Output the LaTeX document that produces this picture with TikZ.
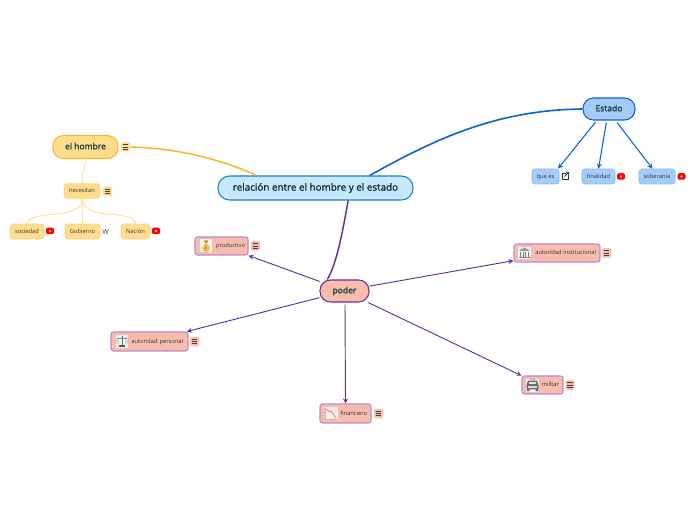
\documentclass[tikz,border=0pt]{standalone}
\usepackage{fontspec}
\setmainfont{Open Sans}
\newfontfamily\semifont{Open Sans}[FakeBold=1.6]
\usetikzlibrary{calc}
\usetikzlibrary{arrows}
\usetikzlibrary{positioning}
\newdimen\pxu
\pxu=0.75pt
\definecolor{mainfill}{HTML}{C6E8FB}
\definecolor{mainline}{HTML}{1B7FC0}
\definecolor{statefill}{HTML}{A5CBFB}
\definecolor{stateline}{HTML}{0B62D6}
\definecolor{manfill}{HTML}{FFDD8C}
\definecolor{manline}{HTML}{F7B52B}
\definecolor{manpale}{HTML}{FEDF96}
\definecolor{powerfill}{HTML}{F8BCAC}
\definecolor{powerline}{HTML}{62309A}
\definecolor{powerpale}{HTML}{B98BCB}
\definecolor{inktext}{HTML}{12304A}
\definecolor{topictext}{HTML}{143F3E}
\begin{document}
\begin{tikzpicture}[
      x=0.75pt, y=-0.75pt,
      topic/.style   ={rectangle, rounded corners=10.5\pxu, thick, text=topictext, inner sep=0pt,
                       text height=5pt, text depth=1.5pt,
                       font=\semifont\fontsize{6.4}{8}\selectfont},
      leaf/.style    ={rectangle, rounded corners=2.5\pxu, inner sep=0pt, text=black!80,
                       text height=3.3pt, text depth=1pt,
                       font=\fontsize{4.3}{5}\selectfont},
      manleaf/.style ={leaf, draw=manline!55, fill=manfill},
      stateleaf/.style={leaf, draw=stateline!45, fill=statefill},
      powerleaf/.style={leaf, draw=powerpale, line width=0.8pt, fill=powerfill, align=right},
      notechip/.style={rectangle, rounded corners=1pt, minimum width=9\pxu, minimum height=9.5\pxu, inner sep=0pt,
                       path picture={
                         \foreach \dy in {-2.2,0,2.2}
                           \draw [black!75, line width=0.55pt]
                             ($(path picture bounding box.center)+(-2.6\pxu,\dy\pxu)$) -- +(5.2\pxu,0pt) ;
                       }},
      redchip/.style ={rectangle, rounded corners=1.5pt, fill=red, minimum width=8\pxu, minimum height=6.5\pxu, inner sep=0pt,
                       path picture={\fill [white!65!red] (path picture bounding box.center) circle (1pt) ;}},
      manlink/.style ={draw=manpale, line width=0.7pt},
      statelink/.style={-stealth, draw=stateline, line width=0.8pt},
      powerlink/.style={-stealth, draw=powerline, line width=0.7pt},
      pics/bagicon/.style={code={
        \fill [black!4] (-6,-6.5) rectangle (6,6.5) ;
        \fill [manline!85!white] (0,2) ellipse (3.8 and 4.2) ;
        \fill [manline!80!black] (-2,-5.5) -- (2,-5.5) -- (1,-2.5) -- (-1,-2.5) -- cycle ;
        \node [font=\fontsize{3.2}{4}\selectfont, text=black!60] at (0,2) {\$} ;
      }},
      pics/scaleicon/.style={code={
        \fill [black!5] (-6,-6.5) rectangle (6,6.5) ;
        \draw [black!60, line width=0.7pt] (0,-5.5) -- (0,4.5) ;
        \draw [black!50, line width=0.4pt] (-4.5,-3) -- (4.5,-3) ;
        \draw [black!30, line width=0.4pt] (-4.5,-3) -- (-5.5,1.5) -- (-3.5,1.5) -- cycle (4.5,-3) -- (3.5,1.5) -- (5.5,1.5) -- cycle ;
        \fill [black!65] (-3,5.5) rectangle (3,3.8) ;
      }},
      pics/bankicon/.style={code={
        \fill [black!4] (-6.5,-6) rectangle (6.5,6) ;
        \fill [black!42] (-6,-2) -- (0,-5.5) -- (6,-2) -- cycle ;
        \foreach \colx in {-4.5,-2,0.5,3} \fill [black!55] (\colx,-1.2) rectangle +(1.4,5) ;
        \fill [black!45] (-6,4) rectangle (6,5.5) ;
      }},
      pics/caricon/.style={code={
        \fill [black!4] (-6.5,-6.5) rectangle (6.5,6.5) ;
        \fill [red!55] (-2.2,-6) rectangle (-0.2,-4.8) ;
        \fill [blue!50] (0.2,-6) rectangle (2.2,-4.8) ;
        \fill [black!58] (-4.5,-4.3) -- (4.5,-4.3) -- (6,0) -- (6,4.3) -- (-6,4.3) -- (-6,0) -- cycle ;
        \fill [black!10] (-3.2,-3.2) rectangle (3.2,-0.6) ;
        \fill [black!15] (-4.5,1.2) rectangle (4.5,2.6) ;
        \fill [black!70] (-5.5,4.3) rectangle (-3.2,6) (3.2,4.3) rectangle (5.5,6) ;
      }},
      pics/charticon/.style={code={
        \fill [white!75!powerfill] (-6.5,-6.5) rectangle (6.5,6.5) ;
        \draw [black!25, line width=0.3pt] (-6,-6) -- (-6,6) -- (6,6) ;
        \draw [red!60, line width=0.55pt] (-5,-4.5) -- (-2,-2) -- (0,-2.5) -- (5,4.5) ;
      }},
      pics/linkicon/.style={code={
        \draw [inktext, line width=0.55pt] (0.5,-3) -- (-3,-3) -- (-3,3) -- (3,3) -- (3,-0.5) ;
        \draw [inktext, line width=0.55pt] (-0.5,0.5) -- (3.5,-3.5) (1,-3.7) -- (3.7,-3.7) -- (3.7,-1) ;
      }}
    ]
    \useasboundingbox (0,0) rectangle (696,520) ;

    % central topic
    \node [topic, draw=mainline, fill=mainfill, text=inktext, minimum width=195\pxu, minimum height=24\pxu,
           rounded corners=11.5\pxu, text height=5.5pt, font=\semifont\fontsize{7.4}{8}\selectfont] (main) at (315.5,188) {relación entre el hombre y el estado} ;

    % el hombre
    \node [topic, draw=manline, fill=manfill, minimum width=65\pxu, minimum height=23\pxu] (man) at (85.5,147) {el hombre} ;
    \node [notechip, fill=manfill] (mannote) at (125.5,147) {} ;
    \node [manleaf, minimum width=36\pxu, minimum height=14.5\pxu] (needs) at (82,191) {necesitan} ;
    \node [notechip, fill=manfill] (needsnote) at (107.5,191.5) {} ;
    \node [manleaf, minimum width=34\pxu, minimum height=15\pxu] (society) at (27,231.5) {sociedad} ;
    \node [manleaf, minimum width=35\pxu, minimum height=15\pxu] (govern) at (82.5,231.5) {Gobierno} ;
    \node [manleaf, minimum width=29\pxu, minimum height=15\pxu] (nation) at (135.5,231.5) {Nación} ;
    \node [redchip] (societyred) at (50,231) {} ;
    \node [redchip] (nationred) at (156,231) {} ;
    \node [inner sep=0pt, text=black!75, font=\rmfamily\fontsize{5.2}{6}\selectfont] (wiki) at (105.5,232) {W} ;

    % Estado
    \node [topic, draw=stateline, fill=statefill, minimum width=52\pxu, minimum height=22\pxu] (state) at (609,109) {Estado} ;
    \node [stateleaf, minimum width=27\pxu, minimum height=15\pxu] (what) at (545.5,176.5) {que es} ;
    \node [stateleaf, minimum width=33\pxu, minimum height=15\pxu] (goal) at (598.5,176.5) {finalidad} ;
    \node [stateleaf, minimum width=36\pxu, minimum height=15\pxu] (rule) at (657,176.5) {soberanía} ;
    \pic at (565,176) {linkicon} ;
    \node [redchip] (goalred) at (621,176.5) {} ;
    \node [redchip] (rulered) at (681.5,176.5) {} ;

    % poder
    \node [topic, draw=powerline, fill=powerfill, minimum width=49\pxu, minimum height=22\pxu] (power) at (344.5,291) {poder} ;
    \node [powerleaf, minimum width=53\pxu, minimum height=18\pxu, text width=47\pxu] (prod) at (221.5,246) {productivo} ;
    \node [powerleaf, minimum width=77\pxu, minimum height=19\pxu, text width=67\pxu] (person) at (149.5,341.5) {autoridad personal} ;
    \node [powerleaf, minimum width=86\pxu, minimum height=18\pxu, text width=78\pxu] (inst) at (557,253) {autoridad institucional} ;
    \node [powerleaf, minimum width=41\pxu, minimum height=18\pxu, text width=33\pxu] (army) at (542.5,385) {militar} ;
    \node [powerleaf, minimum width=51\pxu, minimum height=19\pxu, text width=43\pxu] (money) at (345.5,413.5) {financiero} ;
    \node [notechip, fill=powerfill] (prodnote) at (255.5,246) {} ;
    \node [notechip, fill=powerfill] (personnote) at (194.5,341.5) {} ;
    \node [notechip, fill=powerfill] (instnote) at (606.5,253) {} ;
    \node [notechip, fill=powerfill] (armynote) at (570,385) {} ;
    \node [notechip, fill=powerfill] (moneynote) at (378.5,413.5) {} ;
    \pic at (206,246) {bagicon} ;
    \pic at (122,341.5) {scaleicon} ;
    \pic at (524.5,253) {bankicon} ;
    \pic at (532.5,385) {caricon} ;
    \pic at (331,413.5) {charticon} ;

    % links from the central topic
    \draw [manline, line width=1.1pt] (mannote.east) .. controls (180,148) and (225,161) .. (main.168.6) ;
    \draw [stateline, line width=1.2pt] (main.13.6) .. controls (440,136) and (500,110) .. (state.west) ;
    \draw [powerline, line width=1.1pt] (main.-21.2) .. controls (342,235) and (337,262) .. (power.146.3) ;

    \draw [manlink] (man.south) .. controls (85,172) and (82,170) .. (needs.north) ;
    \draw [manlink] (needs.south) .. controls (82,222) and (30,208) .. (society.north) ;
    \draw [manlink] (needs.south) -- (govern.north) ;
    \draw [manlink] (needs.south) .. controls (84,222) and (133,208) .. (nation.north) ;

    \draw [statelink] ($(state.-137.5)+(-1,1.5)$) -- (what.32) ;
    \draw [statelink] ($(state.-103)+(0,2)$) -- (goal.north) ;
    \draw [statelink] ($(state.-55)+(0,2)$) -- (rule.120) ;

    \draw [powerlink] (power.159.8) -- (prod.south east) ;
    \draw [powerlink] (power.195) -- (person.15) ;
    \draw [powerlink] (power.11.5) -- (inst.190.5) ;
    \draw [powerlink] (power.-26) -- (army.156.6) ;
    \draw [powerlink] ($(power.south)+(0.5,2)$) -- (money.north) ;
  \end{tikzpicture}
\end{document}
